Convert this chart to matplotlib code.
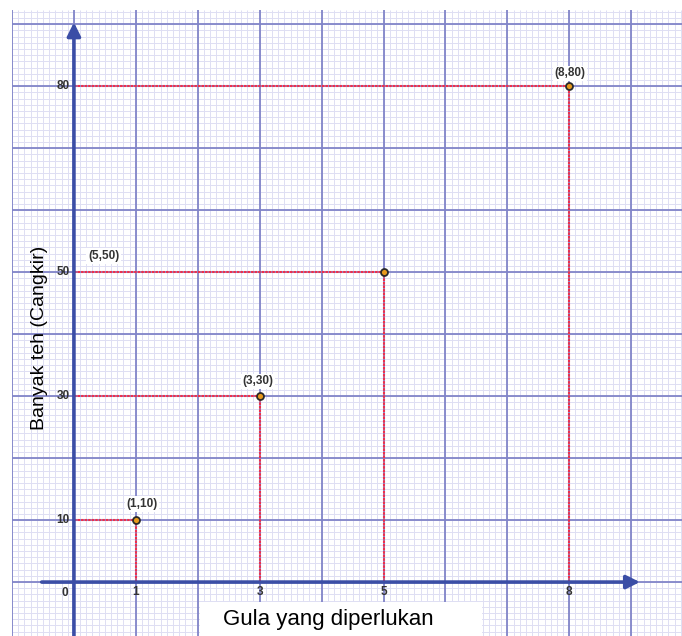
import matplotlib
matplotlib.use('Agg')
import matplotlib.pyplot as plt
import numpy as np

plt.rcParams['font.family'] = ['Liberation Sans', 'DejaVu Sans']

# sugar needed vs cups of tea
gula = [1, 3, 5, 8]
teh = [10, 30, 50, 80]
point_labels = ['(1,10)', '(3,30)', '(5,50)', '(8,80)']
x_ticks = [1, 3, 5, 8]
y_ticks = [10, 30, 50, 80]

AXIS = '#3b4ea6'
MAJOR = '#8185c8'
MINOR = '#dedef3'
RED = '#ee2f4c'
TXT = '#333333'

fig = plt.figure(figsize=(6.82, 6.36), dpi=100)
ax = fig.add_axes([12 / 682, 0, 670 / 682, 626 / 636])
x0, x1 = -1, 9.82
y0, y1 = -8.7, 92.3
ax.set_xlim(x0, x1)
ax.set_ylim(y0, y1)
ax.axis('off')

# graph-paper grid: fine lines first, heavy lines on top
fine_x = np.arange(-1, 9.85, 0.1)
fine_y = np.arange(-8, 93, 1)
ax.vlines(fine_x, y0, y1, color=MINOR, lw=0.7, zorder=0.5)
ax.hlines(fine_y, x0, x1, color=MINOR, lw=0.7, zorder=0.5)
ax.vlines(np.arange(-1, 10, 1), y0, y1, color=MAJOR, lw=1.3, zorder=1)
ax.hlines(np.arange(0, 100, 10), x0, x1, color=MAJOR, lw=1.3, zorder=1)

# axes with arrows
ax.annotate('', xy=(9.14, 0), xytext=(-0.52, 0),
            arrowprops=dict(arrowstyle='-|>', lw=2.6, color=AXIS,
                            mutation_scale=20, shrinkA=0, shrinkB=0), zorder=4)
ax.annotate('', xy=(0, 90.3), xytext=(0, y0),
            arrowprops=dict(arrowstyle='-|>', lw=2.6, color=AXIS,
                            mutation_scale=20, shrinkA=0, shrinkB=0), zorder=4)

# guide lines from each point to the axes
for x, y in zip(gula, teh):
    ax.plot([0, x], [y, y], color=RED, lw=1.5, ls=(0, (1.2, 0.5)), zorder=3)
    ax.plot([x, x], [0, y], color=RED, lw=1.5, ls=(0, (1.2, 0.5)), zorder=3)

ax.plot(gula, teh, 'o', ms=5, mfc='#e89a1c', mec='#2a2a2a', mew=1.3, zorder=6)

label_pos = [(1.10, 12.6), (2.97, 32.4), (0.48, 52.6), (8.01, 82.1)]
for (lx, ly), txt in zip(label_pos, point_labels):
    ax.text(lx, ly, txt, fontsize=8.5, color=TXT, ha='center', va='center',
            fontweight='bold',
            bbox=dict(facecolor='white', edgecolor='none', pad=1.2), zorder=5)

# tick labels
for x in x_ticks:
    ax.text(x, -1.6, str(x), fontsize=8.5, color=TXT, ha='center', va='center',
            fontweight='bold', zorder=5)
for y in y_ticks:
    ax.text(-0.07, y, str(y), fontsize=8.5, color=TXT, ha='right', va='center',
            fontweight='bold', zorder=5)
ax.text(-0.15, -1.8, '0', fontsize=8.5, color=TXT, ha='center', va='center',
        fontweight='bold', zorder=5)

# axis titles
fig.patches.append(plt.Rectangle((200 / 682, 0), 282 / 682, 34 / 636,
                                 transform=fig.transFigure, facecolor='white',
                                 edgecolor='none', zorder=10))
fig.text(328 / 682, 1 - 620 / 636, 'Gula yang diperlukan', fontsize=16,
         color='black', ha='center', va='center', zorder=11)
fig.text(40 / 682, 1 - 338 / 636, 'Banyak teh (Cangkir)', fontsize=14,
         color='black', ha='center', va='center', rotation=90, zorder=11)

fig.savefig('out.png', dpi=100, facecolor='white')
